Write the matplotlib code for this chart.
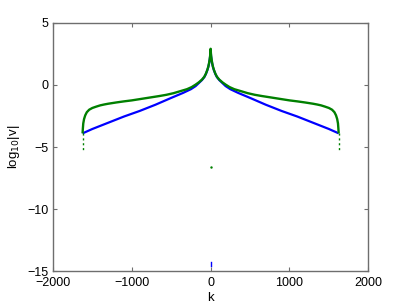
import matplotlib
matplotlib.use("Agg")
import matplotlib.pyplot as plt
import numpy as np

plt.rcParams['font.family'] = ['Liberation Sans', 'DejaVu Sans']

# Green curve, k >= 0 side and k <= 0 side
green_k_pos = [0, 3, 6, 12, 20, 30, 42, 60, 80, 110, 150, 190, 240, 300, 380, 470, 560, 650, 750, 850, 1000,
               1100, 1200, 1300, 1350, 1400, 1450, 1500, 1540, 1570, 1590, 1605, 1615, 1620, 1624]
green_y_pos = [2.9, 2.6, 2.35, 2.05, 1.75, 1.45, 1.2, 0.9, 0.65, 0.42, 0.2, 0.02, -0.18, -0.35, -0.5, -0.67, -0.8, -0.9, -1.0, -1.1, -1.25,
               -1.33, -1.42, -1.52, -1.58, -1.65, -1.75, -1.86, -2.0, -2.2, -2.45, -2.75, -3.1, -3.5, -3.9]
green_k_neg = [0, -3, -6, -12, -20, -30, -42, -60, -80, -110, -150, -190, -240, -300, -380, -470, -560, -650, -750, -850, -1000,
               -1100, -1200, -1300, -1350, -1400, -1450, -1500, -1540, -1570, -1590, -1605, -1615, -1620, -1624]
green_y_neg = [2.9, 2.6, 2.35, 2.05, 1.75, 1.45, 1.2, 0.9, 0.65, 0.42, 0.2, 0.02, -0.18, -0.35, -0.5, -0.67, -0.8, -0.9, -1.0, -1.1, -1.25,
               -1.33, -1.42, -1.52, -1.58, -1.65, -1.75, -1.86, -2.0, -2.2, -2.45, -2.75, -3.1, -3.5, -3.9]

# Blue curve
blue_k_pos = [0, 3, 6, 12, 20, 30, 42, 60, 80, 110, 150, 190, 250, 350, 500, 700, 900, 1100, 1300, 1500, 1624]
blue_y_pos = [2.8, 2.55, 2.3, 2.0, 1.7, 1.42, 1.17, 0.87, 0.62, 0.38, 0.14, -0.1, -0.35, -0.65, -1.05, -1.6, -2.1, -2.55, -3.05, -3.55, -3.9]
blue_k_neg = [0, -3, -6, -12, -20, -30, -42, -60, -80, -110, -150, -190, -250, -350, -500, -700, -900, -1100, -1300, -1500, -1624]
blue_y_neg = [2.8, 2.55, 2.3, 2.0, 1.7, 1.42, 1.17, 0.87, 0.62, 0.38, 0.14, -0.1, -0.35, -0.65, -1.05, -1.6, -2.1, -2.55, -3.05, -3.55, -3.9]

# Green tails (dotted) at the ends
tail_k = [-1624, 1624]
tail_y_top = -3.9
tail_y_bot = -5.3

# Isolated points
green_pt_k, green_pt_y = [0], [-6.6]
blue_pt_k, blue_pt_y = [0], [-14.4]

fig = plt.figure(figsize=(4.07, 3.06), dpi=100)
ax = fig.add_axes([0.13, 0.113, 0.775, 0.813])

blue = '#0000ff'
green = '#008000'

ax.plot(blue_k_neg[::-1] + blue_k_pos[1:], blue_y_neg[::-1] + blue_y_pos[1:], color=blue, lw=1.6,
        solid_capstyle='butt')
ax.plot(green_k_neg[::-1] + green_k_pos[1:], green_y_neg[::-1] + green_y_pos[1:], color=green, lw=1.7,
        solid_capstyle='butt')
for tk in tail_k:
    ax.plot([tk, tk], [tail_y_top, tail_y_bot], color=green, lw=1.0, ls=(0, (1.5, 2)))
ax.plot(green_pt_k, green_pt_y, '.', color=green, ms=1.5)
ax.plot([blue_pt_k[0], blue_pt_k[0]], [blue_pt_y[0] - 0.15, blue_pt_y[0] + 0.15], color=blue, lw=1.0)

ax.set_xlim(-2000, 2000)
ax.set_ylim(-15, 5)
ax.set_xticks([-2000, -1000, 0, 1000, 2000])
ax.set_yticks([-15, -10, -5, 0, 5])
ax.set_xticklabels(['\u22122000', '\u22121000', '0', '1000', '2000'])
ax.set_yticklabels(['\u221215', '\u221210', '\u22125', '0', '5'])
ax.tick_params(direction='in', top=True, right=True, length=3, width=0.8, colors='#6e6e6e',
               labelcolor='black', labelsize=9, pad=3)
ax.tick_params(axis='x', pad=4)
for s in ax.spines.values():
    s.set_color('#6e6e6e')
    s.set_linewidth(1.0)
ax.set_xlabel('k', fontsize=9.5, labelpad=2)
ax.set_ylabel('log$_{10}$|v|', fontsize=9.5, labelpad=4)

fig.savefig('out.png', dpi=100)
